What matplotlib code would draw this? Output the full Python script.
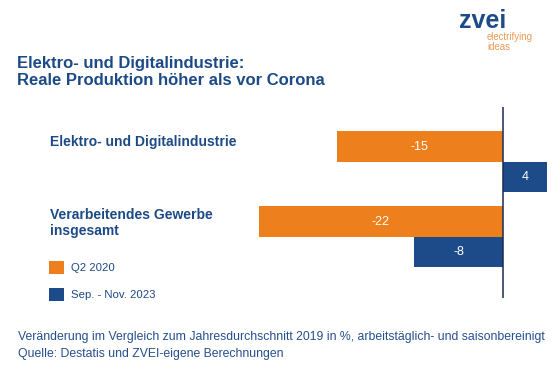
import matplotlib
matplotlib.use("Agg")
import matplotlib.pyplot as plt

plt.rcParams['font.family'] = ['Liberation Sans', 'DejaVu Sans']

# data
categories = ["Elektro- und Digitalindustrie", "Verarbeitendes Gewerbe\ninsgesamt"]
series_names = ["Q2 2020", "Sep. - Nov. 2023"]
q2_2020 = [-15, -22]
sep_nov_2023 = [4, -8]

orange = "#EE7F1D"
blue = "#1D4B8A"
textblue = "#1C4A86"

W, H = 560, 374
fig = plt.figure(figsize=(W / 100, H / 100), dpi=100)

def fx(px):
    return px / W

def fy(py):
    return 1 - py / H

# axes placed so that zero sits at x=503px, 11.1px per unit
ax = fig.add_axes([fx(200), fy(298), fx(360), (298 - 107) / H])
ax.set_xlim(-303 / 11.1, 57 / 11.1)
ax.set_ylim(1 + 61 / 75, -55 / 75)
ax.axis("off")

h = 30.5 / 75
ypos = list(range(len(categories)))
bars1 = ax.barh([y - h / 2 for y in ypos], q2_2020, height=h, color=orange, label=series_names[0])
bars2 = ax.barh([y + h / 2 for y in ypos], sep_nov_2023, height=h, color=blue, label=series_names[1])
ax.axvline(0, color="#1A2A50", lw=1.1)

for y, v in zip(ypos, q2_2020):
    ax.text(v / 2, y - h / 2, str(v), color="white", fontsize=9, ha="center", va="center")
for y, v in zip(ypos, sep_nov_2023):
    ax.text(v / 2, y + h / 2, str(v), color="white", fontsize=9, ha="center", va="center")

# category labels on the left
fig.text(fx(50), fy(142), categories[0], fontsize=10, fontweight="bold", color=textblue, va="center")
fig.text(fx(50), fy(223), categories[1], fontsize=10, fontweight="bold", color=textblue,
         va="center", linespacing=1.25)

# title
fig.text(fx(17), fy(68), "Elektro- und Digitalindustrie:", fontsize=12, fontweight="bold",
         color=textblue, va="baseline")
fig.text(fx(17), fy(85), "Reale Produktion höher als vor Corona", fontsize=12, fontweight="bold",
         color=textblue, va="baseline")

# logo
fig.text(fx(459), fy(28), "zvei", fontsize=18, fontweight="bold", color=blue, va="baseline")
fig.text(fx(487), fy(40), "electrifying", fontsize=6.9, color="#EF9A55", va="baseline")
fig.text(fx(487), fy(50), "ideas", fontsize=6.9, color="#EF9A55", va="baseline")

# legend
fig.legend(handles=[bars1, bars2], labels=series_names, loc="upper left",
           bbox_to_anchor=(fx(49), fy(261)), frameon=False, fontsize=8.2,
           handlelength=1.35, handleheight=1.35, handletextpad=0.6,
           labelspacing=1.25, borderpad=0, borderaxespad=0, labelcolor=textblue)

# footer
fig.text(fx(18), fy(337), "Veränderung im Vergleich zum Jahresdurchschnitt 2019 in %, arbeitstäglich- und saisonbereinigt",
         fontsize=8.8, color="#244F8E", va="center")
fig.text(fx(18), fy(354), "Quelle: Destatis und ZVEI-eigene Berechnungen",
         fontsize=8.8, color="#244F8E", va="center")

fig.savefig("out.png", dpi=100)
